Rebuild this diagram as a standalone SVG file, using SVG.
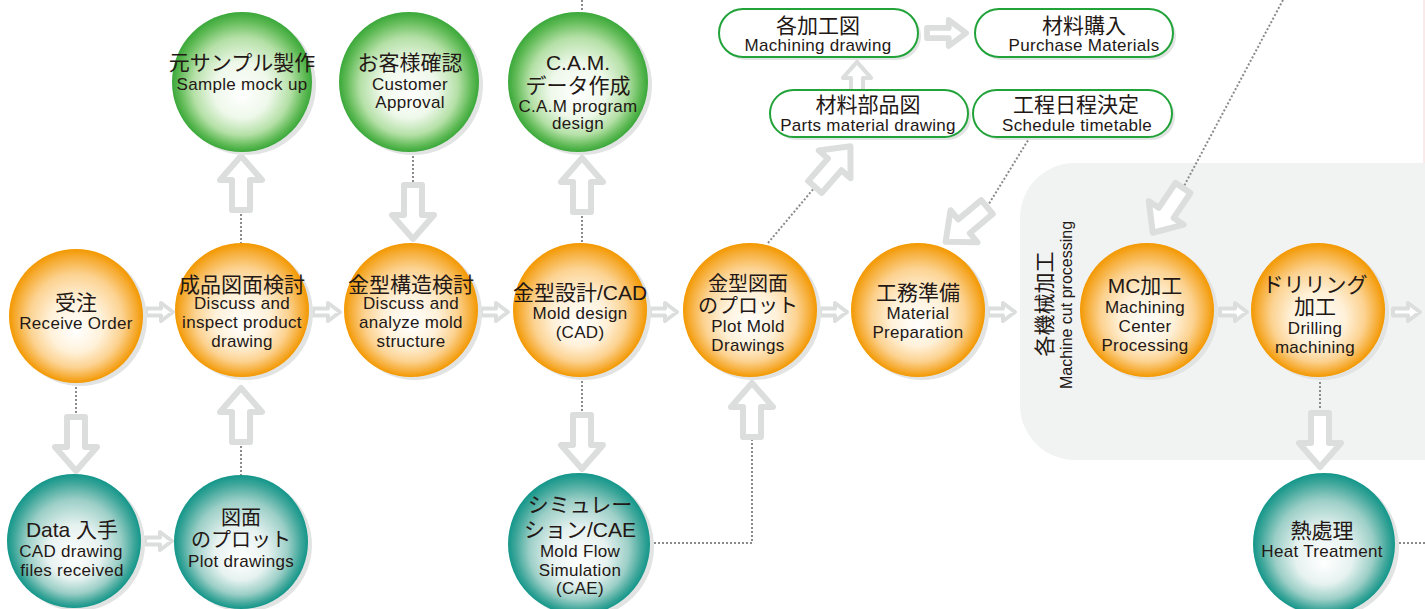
<svg xmlns="http://www.w3.org/2000/svg" width="1425" height="609" viewBox="0 0 1425 609">
<defs>
<radialGradient id="gO" cx="50%" cy="50%" r="50%" fx="50%" fy="62%">
<stop offset="0" stop-color="#ffffff"/><stop offset="0.4" stop-color="#fff1d9"/><stop offset="0.7" stop-color="#fcd290"/><stop offset="0.9" stop-color="#f6ac34"/><stop offset="1" stop-color="#f39800"/>
</radialGradient>
<radialGradient id="gG" cx="50%" cy="50%" r="50%" fx="50%" fy="60%">
<stop offset="0" stop-color="#ffffff"/><stop offset="0.4" stop-color="#eef8ea"/><stop offset="0.7" stop-color="#b4e0a6"/><stop offset="0.9" stop-color="#5fba55"/><stop offset="1" stop-color="#3aa83a"/>
</radialGradient>
<radialGradient id="gT" cx="50%" cy="50%" r="50%" fx="50%" fy="64%">
<stop offset="0" stop-color="#ffffff"/><stop offset="0.4" stop-color="#e6f2f0"/><stop offset="0.7" stop-color="#9ccfc7"/><stop offset="0.9" stop-color="#3ea69a"/><stop offset="1" stop-color="#13968a"/>
</radialGradient>
<path id="bigA" d="M-9,0 H9 V30 H21 L0,54 L-21,30 H-9 Z"/>
<path id="smA" d="M0,-3.5 H15 V-9 L27,0 L15,9 V3.5 H0 Z"/>
</defs>
<style>
.sh{fill:#e2e3e3}
.o{fill:url(#gO)}
.g{fill:url(#gG)}
.t{fill:url(#gT)}
.ba{fill:#fff;stroke:#dcdddd;stroke-width:6;stroke-linejoin:round}
.sa{fill:#fff;stroke:#dcdddd;stroke-width:4;stroke-linejoin:round}
.dot{fill:none;stroke:#8a8a8a;stroke-width:2;stroke-dasharray:2 2}
.pill{fill:#fff;stroke:#22a33a;stroke-width:2}
text{font-family:"Liberation Sans","Noto Sans CJK JP",sans-serif;fill:#231815;text-anchor:middle}
.j{font-size:21px}
.j2{font-size:20px}
.e{font-size:17px;letter-spacing:0.3px}
.v{font-size:16px}
</style>
<rect width="1425" height="609" fill="#fff"/>
<line x1="1424" y1="0" x2="1424" y2="163" stroke="#f3d6d6" stroke-width="1"/>
<g id="machining-area">
<path d="M1425,163 H1075 A55,55 0 0 0 1020,218 V405 A55,55 0 0 0 1075,460 H1425 Z" fill="#f1f2f2"/>
<text class="j" transform="translate(1052,304) rotate(-90)">各機械加工</text>
<text class="v" transform="translate(1072,305) rotate(-90)">Machine cut processing</text>
</g>
<g id="connectors">
<path class="dot" d="M76,383 V417"/>
<path class="dot" d="M241,442 V475"/>
<path class="dot" d="M241,210 V243"/>
<path class="dot" d="M413,152 V185"/>
<path class="dot" d="M582,0 V12"/>
<path class="dot" d="M582,212 V243"/>
<path class="dot" d="M582,377 V415"/>
<path class="dot" d="M650,543 H752 V437"/>
<path class="dot" d="M768,243 L815,187"/>
<path class="dot" d="M1030,137 L987,207"/>
<path class="dot" d="M1283,0 L1183,188"/>
<path class="dot" d="M1320,378 V413"/>
<path class="dot" d="M1395,543 H1425"/>
<use href="#bigA" class="ba" transform="translate(76,417)"/>
<use href="#bigA" class="ba" transform="translate(241,442) rotate(180)"/>
<use href="#bigA" class="ba" transform="translate(241,210) rotate(180)"/>
<use href="#bigA" class="ba" transform="translate(413,185)"/>
<use href="#bigA" class="ba" transform="translate(582,212) rotate(180)"/>
<use href="#bigA" class="ba" transform="translate(582,415)"/>
<use href="#bigA" class="ba" transform="translate(752,437) rotate(180)"/>
<use href="#bigA" class="ba" transform="translate(815,187) rotate(221)"/>
<use href="#bigA" class="ba" transform="translate(987,207) rotate(50)"/>
<use href="#bigA" class="ba" transform="translate(1183,188) rotate(34)"/>
<use href="#bigA" class="ba" transform="translate(1320,413)"/>
<use href="#bigA" class="ba" transform="translate(857,98) rotate(180) scale(0.67)"/>
<use href="#smA" class="sa" transform="translate(927,33) scale(1.45)"/>
<use href="#smA" class="sa" transform="translate(146,312)"/>
<use href="#smA" class="sa" transform="translate(313,312)"/>
<use href="#smA" class="sa" transform="translate(481,312)"/>
<use href="#smA" class="sa" transform="translate(650,312)"/>
<use href="#smA" class="sa" transform="translate(820,312)"/>
<use href="#smA" class="sa" transform="translate(988,312)"/>
<use href="#smA" class="sa" transform="translate(1220,312)"/>
<use href="#smA" class="sa" transform="translate(1393,312)"/>
<use href="#smA" class="sa" transform="translate(145,541)"/>
</g>
<g id="n-order"><circle class="sh" cx="80" cy="319" r="67"/><circle class="o" cx="76" cy="316" r="67"/>
<text class="j" x="76" y="310">受注</text><text class="e" x="76" y="329">Receive Order</text></g>
<g id="n-inspect"><circle class="sh" cx="246" cy="313" r="67"/><circle class="o" cx="242" cy="310" r="67"/>
<text class="j" x="242" y="292">成品図面検討</text><text class="e" x="242" y="309">Discuss and</text><text class="e" x="242" y="328">inspect product</text><text class="e" x="242" y="347">drawing</text></g>
<g id="n-structure"><circle class="sh" cx="415" cy="313" r="67"/><circle class="o" cx="411" cy="310" r="67"/>
<text class="j" x="411" y="292">金型構造検討</text><text class="e" x="411" y="309">Discuss and</text><text class="e" x="411" y="328">analyze mold</text><text class="e" x="411" y="347">structure</text></g>
<g id="n-design"><circle class="sh" cx="584" cy="313" r="67"/><circle class="o" cx="580" cy="310" r="67"/>
<text class="j" x="580" y="300">金型設計/CAD</text><text class="e" x="580" y="319">Mold design</text><text class="e" x="580" y="338">(CAD)</text></g>
<g id="n-plot-mold"><circle class="sh" cx="754" cy="313" r="67"/><circle class="o" cx="750" cy="310" r="67"/>
<text class="j2" x="748" y="291">金型図面</text><text class="j2" x="748" y="313">のプロット</text><text class="e" x="748" y="332">Plot Mold</text><text class="e" x="748" y="351">Drawings</text></g>
<g id="n-prep"><circle class="sh" cx="922" cy="313" r="67"/><circle class="o" cx="918" cy="310" r="67"/>
<text class="j" x="918" y="300">工務準備</text><text class="e" x="918" y="319">Material</text><text class="e" x="918" y="338">Preparation</text></g>
<g id="n-mc"><circle class="sh" cx="1151" cy="313" r="67"/><circle class="o" cx="1147" cy="310" r="67"/>
<text class="j" x="1145" y="293">MC加工</text><text class="e" x="1145" y="313">Machining</text><text class="e" x="1145" y="332">Center</text><text class="e" x="1145" y="351">Processing</text></g>
<g id="n-drill"><circle class="sh" cx="1322" cy="313" r="67"/><circle class="o" cx="1318" cy="310" r="67"/>
<text class="j" x="1315" y="292">ドリリング</text><text class="j" x="1315" y="314">加工</text><text class="e" x="1315" y="334">Drilling</text><text class="e" x="1315" y="353">machining</text></g>
<g id="n-data"><circle class="sh" cx="78" cy="544" r="67"/><circle class="t" cx="74" cy="541" r="67"/>
<text class="j" x="72" y="537">Data 入手</text><text class="e" x="71" y="557">CAD drawing</text><text class="e" x="72" y="576">files received</text></g>
<g id="n-plot"><circle class="sh" cx="245" cy="545" r="67"/><circle class="t" cx="241" cy="542" r="67"/>
<text class="j2" x="241" y="525">図面</text><text class="j2" x="241" y="547">のプロット</text><text class="e" x="241" y="567">Plot drawings</text></g>
<g id="n-sim"><circle class="sh" cx="583" cy="547" r="71"/><circle class="t" cx="579" cy="544" r="71"/>
<text class="j" x="580" y="512">シミュレー</text><text class="j" x="580" y="537">ション/CAE</text><text class="e" x="580" y="557">Mold Flow</text><text class="e" x="580" y="576">Simulation</text><text class="e" x="580" y="594">(CAE)</text></g>
<g id="n-heat"><circle class="sh" cx="1328" cy="547" r="71"/><circle class="t" cx="1324" cy="544" r="71"/>
<text class="j" x="1322" y="538">熱處理</text><text class="e" x="1322" y="557">Heat Treatment</text></g>
<g id="n-sample"><circle class="sh" cx="246" cy="85" r="70"/><circle class="g" cx="242" cy="82" r="70"/>
<text class="j" x="242" y="70">元サンプル製作</text><text class="e" x="242" y="90">Sample mock up</text></g>
<g id="n-approval"><circle class="sh" cx="413" cy="85" r="70"/><circle class="g" cx="409" cy="82" r="70"/>
<text class="j" x="410" y="70">お客様確認</text><text class="e" x="410" y="90">Customer</text><text class="e" x="410" y="108">Approval</text></g>
<g id="n-cam"><circle class="sh" cx="582" cy="85" r="70"/><circle class="g" cx="578" cy="82" r="70"/>
<text class="j" x="578" y="70">C.A.M.</text><text class="j" x="578" y="93">データ作成</text><text class="e" x="578" y="112">C.A.M program</text><text class="e" x="578" y="129">design</text></g>
<g id="p-machining"><rect class="sh" x="722" y="12" width="199" height="48" rx="24"/><rect class="pill" x="719" y="9" width="199" height="48" rx="24"/>
<text class="j" x="818" y="33">各加工図</text><text class="e" x="818" y="51">Machining drawing</text></g>
<g id="p-purchase"><rect class="sh" x="978" y="12" width="198" height="48" rx="24"/><rect class="pill" x="975" y="9" width="198" height="48" rx="24"/>
<text class="j" x="1084" y="33">材料購入</text><text class="e" x="1084" y="51">Purchase Materials</text></g>
<g id="p-parts"><rect class="sh" x="773" y="93" width="198" height="47" rx="23.5"/><rect class="pill" x="770" y="90" width="198" height="47" rx="23.5"/>
<text class="j" x="868" y="112">材料部品図</text><text class="e" x="868" y="131">Parts material drawing</text></g>
<g id="p-schedule"><rect class="sh" x="976" y="93" width="199" height="47" rx="23.5"/><rect class="pill" x="973" y="90" width="199" height="47" rx="23.5"/>
<text class="j" x="1076" y="112">工程日程決定</text><text class="e" x="1077" y="131">Schedule timetable</text></g>
</svg>
